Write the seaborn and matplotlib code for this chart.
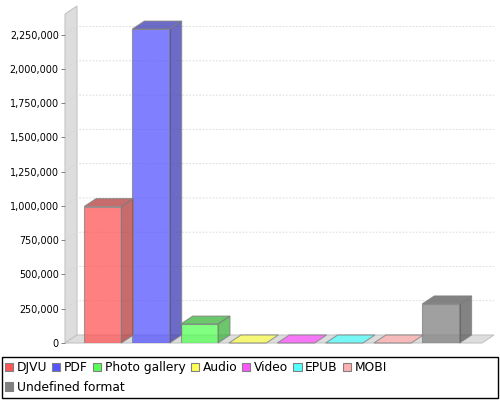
import matplotlib
matplotlib.use("Agg")
import matplotlib.pyplot as plt
from matplotlib.colors import to_rgb
from matplotlib.patches import Polygon, Patch, Rectangle
from matplotlib.ticker import FuncFormatter
import pandas as pd
import seaborn as sns

formats = ["DJVU", "PDF", "Photo gallery", "Audio", "Video", "EPUB", "MOBI", "Undefined format"]
counts = [995000, 2290000, 138000, 0, 0, 0, 0, 285000]
colors = ["#ff5555", "#5555ff", "#55ff55", "#ffff55", "#ff55ff", "#55ffff", "#ffafaf", "#808080"]
y_ticks = list(range(0, 2250001, 250000))

sns.set_theme(style="white")
plt.rcParams["font.family"] = ["DejaVu Sans"]

df = pd.DataFrame({"format": formats, "count": counts})

fig = plt.figure(figsize=(5, 4), dpi=100)
ax = fig.add_axes([0.13, 0.1425, 0.834, 0.8225])

sns.barplot(data=df, x="format", y="count", hue="format", palette=colors,
            saturation=1, width=0.772, alpha=0.75, edgecolor="#808080",
            linewidth=0.8, legend=False, ax=ax, zorder=3)
bars = sorted(ax.patches, key=lambda p: p.get_x())

xl, xr = -0.78, 7.85
ytop = 2400000
ax.set_xlim(xl, xr)
ax.set_ylim(0, ytop)

# 3d depth: ~12px right, ~8px up
dx = 12 / 48.3
dy = 8 * 250000 / 34.26

# left wall and floor
ax.add_patch(Polygon([(xl, 0), (xl, ytop), (xl + dx, ytop + dy), (xl + dx, dy)],
                     facecolor="#dddddd", edgecolor="#c4c4c4", lw=0.8, clip_on=False, zorder=0))
ax.add_patch(Polygon([(xl, 0), (xr, 0), (xr + dx, dy), (xl + dx, dy)],
                     facecolor="#dddddd", edgecolor="#c4c4c4", lw=0.8, clip_on=False, zorder=0))

# gridlines on the back wall
for t in y_ticks[1:]:
    ax.plot([xl, xl + dx, xr + dx], [t, t + dy, t + dy], ls=(0, (2, 2)),
            color="#d4d4d4", lw=0.6, clip_on=False, zorder=1)

def darker(c):
    r, g, b = to_rgb(c)
    return (r * 0.7, g * 0.7, b * 0.7)

for bar, c in zip(bars, colors):
    x0 = bar.get_x()
    x1 = x0 + bar.get_width()
    h = bar.get_height()
    top_col = darker(c) if h > 0 else c
    ax.add_patch(Polygon([(x0, h), (x0 + dx, h + dy), (x1 + dx, h + dy), (x1, h)],
                         facecolor=top_col, edgecolor="#808080", lw=0.8, alpha=0.75,
                         clip_on=False, zorder=3))
    if h > 0:
        ax.add_patch(Polygon([(x1, 0), (x1 + dx, dy), (x1 + dx, h + dy), (x1, h)],
                             facecolor=darker(c), edgecolor="#808080", lw=0.8, alpha=0.75,
                             clip_on=False, zorder=3))

ax.set_yticks(y_ticks)
ax.yaxis.set_major_formatter(FuncFormatter(lambda v, p: f"{v:,.0f}"))
ax.tick_params(axis="y", left=True, length=3, width=0.7, color="#808080",
               labelsize=6.9, labelcolor="black", pad=1.5)
ax.set_xticks([])
ax.set_xlabel("")
ax.set_ylabel("")
for s in ax.spines.values():
    s.set_visible(False)

# legend, flowing in two rows
handles = [Patch(facecolor=c, edgecolor="#808080", linewidth=0.8) for c in colors]
leg_kw = dict(frameon=False, fontsize=8.8, handlelength=0.66, handleheight=0.66,
              handletextpad=0.3, columnspacing=0.42, borderpad=0, borderaxespad=0,
              loc="center left", labelcolor="black")
fig.legend(handles[:7], formats[:7], ncol=7, bbox_to_anchor=(0.01, 0.081), **leg_kw)
fig.legend(handles[7:], formats[7:], bbox_to_anchor=(0.01, 0.032), **leg_kw)
fig.add_artist(Rectangle((0.004, 0.005), 0.992, 0.1025, transform=fig.transFigure,
                         fill=False, edgecolor="black", lw=1))

fig.savefig("out.png", dpi=100)
